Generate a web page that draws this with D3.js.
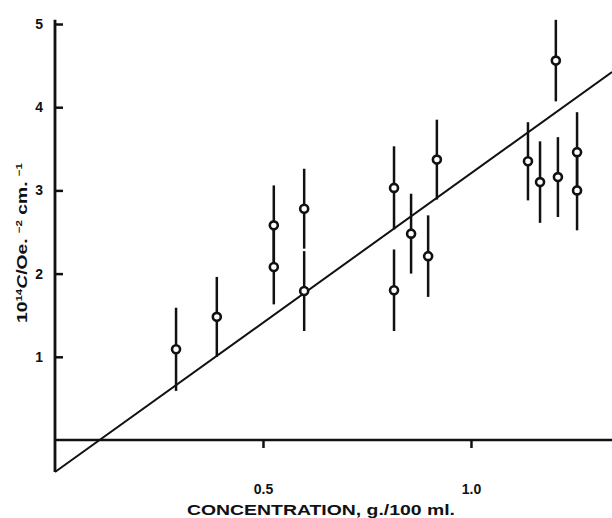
<!DOCTYPE html>
<html>
<head>
<meta charset="utf-8">
<script src="https://cdn.jsdelivr.net/npm/d3@7"></script>
<style>
  body { margin: 0; background: #fff; }
  text { font-family: "Liberation Sans", Arial, sans-serif; fill: #111; }
</style>
</head>
<body>
<script>
// concentration (g./100 ml.), 10^14 C / Oe^-2 cm^-1, error half-width
const conc  = [0.291, 0.389, 0.526, 0.526, 0.599, 0.599, 0.815, 0.815, 0.856, 0.897, 0.918, 1.137, 1.166, 1.204, 1.209, 1.255, 1.255];
const cval  = [1.09, 1.48, 2.58, 2.08, 2.78, 1.79, 3.03, 1.80, 2.48, 2.21, 3.37, 3.35, 3.10, 4.56, 3.16, 3.46, 3.00];
const cerr  = [0.50, 0.48, 0.48, 0.45, 0.48, 0.48, 0.50, 0.49, 0.48, 0.49, 0.48, 0.47, 0.49, 0.49, 0.48, 0.48, 0.48];
const xTicks = [0.5, 1.0];
const yTicks = [1, 2, 3, 4, 5];
// fitted straight line: intercept, slope
const fitLine = [-0.385, 3.59];

const W = 612, H = 518;
const svg = d3.select("body").append("svg")
    .attr("width", W)
    .attr("height", H);

const x = d3.scaleLinear().domain([0, 1.339]).range([55, 612]);
const y = d3.scaleLinear().domain([0, 5]).range([440, 24]);

// y axis, ticks pointing inward
const yAxis = svg.append("g")
    .attr("transform", `translate(${x(0)},0)`)
    .call(d3.axisLeft(y).tickValues(yTicks).tickSize(-8).tickPadding(12).tickFormat(d3.format("d")));
yAxis.select(".domain").remove();
yAxis.selectAll("line").attr("stroke", "#111").attr("stroke-width", 2.5);
yAxis.selectAll("text").attr("font-size", 14).attr("font-weight", "bold");

svg.append("line")
    .attr("x1", x(0)).attr("x2", x(0))
    .attr("y1", y(-0.385)).attr("y2", y(5.05))
    .attr("stroke", "#111").attr("stroke-width", 2.8);

// zero line with x ticks
const xAxis = svg.append("g")
    .attr("transform", `translate(0,${y(0)})`)
    .call(d3.axisBottom(x).tickValues(xTicks).tickSize(8).tickPadding(36).tickFormat(d3.format(".1f")));
xAxis.select(".domain").remove();
xAxis.selectAll("line").attr("stroke", "#111").attr("stroke-width", 2.5);
xAxis.selectAll("text").attr("font-size", 14).attr("font-weight", "bold");

svg.append("line")
    .attr("x1", x(0)).attr("x2", x(1.339))
    .attr("y1", y(0)).attr("y2", y(0))
    .attr("stroke", "#111").attr("stroke-width", 2.5);

svg.append("text")
    .attr("x", 321).attr("y", 515)
    .attr("text-anchor", "middle")
    .attr("font-size", 15)
    .attr("font-weight", "bold")
    .attr("textLength", 268)
    .attr("lengthAdjust", "spacingAndGlyphs")
    .text("CONCENTRATION, g./100 ml.");

// y label
const yl = svg.append("text")
    .attr("transform", "translate(27,243) rotate(-90)")
    .attr("text-anchor", "middle")
    .attr("font-size", 15)
    .attr("font-weight", "bold")
    .attr("textLength", 160)
    .attr("lengthAdjust", "spacingAndGlyphs");
yl.append("tspan").text("10");
yl.append("tspan").attr("font-size", 9).attr("dy", -5).text("14");
yl.append("tspan").attr("dy", 5).attr("font-style", "italic").text("C");
yl.append("tspan").text("/Oe. ");
yl.append("tspan").attr("font-size", 9).attr("dy", -5).text("−2");
yl.append("tspan").attr("dy", 5).text(" cm. ");
yl.append("tspan").attr("font-size", 9).attr("dy", -5).text("−1");

// fit line
const xs = [0, 1.339];
svg.append("path")
    .attr("d", d3.line().x(d => x(d)).y(d => y(fitLine[0] + fitLine[1] * d))(xs))
    .attr("stroke", "#111").attr("stroke-width", 2).attr("fill", "none");

// error bars and points
const idx = d3.range(conc.length);
svg.append("g").selectAll("line")
    .data(idx).join("line")
    .attr("x1", i => x(conc[i])).attr("x2", i => x(conc[i]))
    .attr("y1", i => y(cval[i] - cerr[i])).attr("y2", i => y(cval[i] + cerr[i]))
    .attr("stroke", "#111").attr("stroke-width", 2.5);

svg.append("g").selectAll("circle")
    .data(idx).join("circle")
    .attr("cx", i => x(conc[i])).attr("cy", i => y(cval[i]))
    .attr("r", 4)
    .attr("fill", "#fff").attr("stroke", "#111").attr("stroke-width", 2.6);
</script>
</body>
</html>
